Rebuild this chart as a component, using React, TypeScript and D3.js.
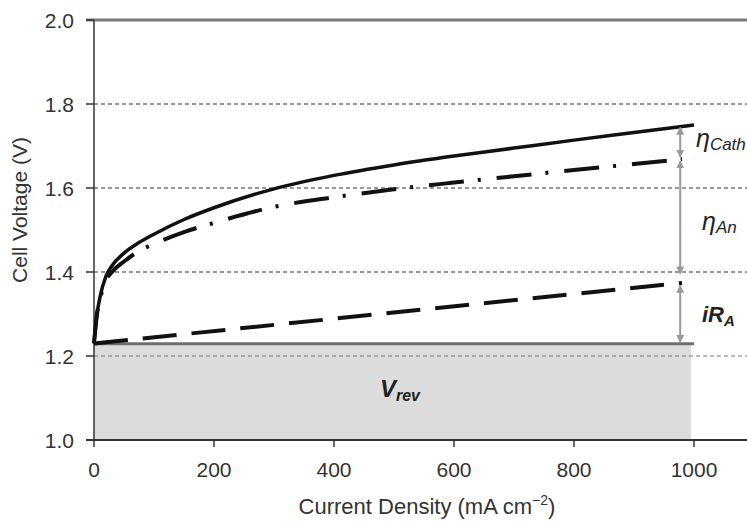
import * as React from "react";
import * as d3 from "d3";

// current density (mA cm-2) and voltage readings
const currentDensity = [0, 5, 10, 20, 30, 50, 75, 100, 150, 200, 300, 400, 500, 600, 700, 800, 900, 1000];
const totalVoltage = [1.23, 1.3, 1.34, 1.39, 1.415, 1.445, 1.47, 1.49, 1.525, 1.553, 1.598, 1.63, 1.655, 1.676, 1.695, 1.714, 1.732, 1.75];

const anodeDensity = [0, 5, 10, 20, 30, 50, 75, 100, 150, 200, 300, 400, 500, 600, 700, 800, 900, 980];
const anodeVoltage = [1.23, 1.3, 1.335, 1.38, 1.4, 1.425, 1.45, 1.467, 1.495, 1.517, 1.555, 1.578, 1.597, 1.613, 1.628, 1.643, 1.657, 1.669];

const ohmicDensity = [0, 980];
const ohmicVoltage = [1.23, 1.374];

const vRev = 1.229;
const vRevEnd = 1000;

const yTicks = [1.0, 1.2, 1.4, 1.6, 1.8, 2.0];
const gridLines = [1.2, 1.4, 1.6, 1.8];
const xTicks = [0, 200, 400, 600, 800, 1000];

const arrowX = 977;
const arrows = [
  { from: 1.744, to: 1.674 },
  { from: 1.664, to: 1.396 },
  { from: 1.368, to: 1.233 },
];

const W = 747;
const H = 522;

const App = () => {
  const x = d3.scaleLinear().domain([0, 1100]).range([94, 754]);
  const y = d3.scaleLinear().domain([1.0, 2.0]).range([440, 20]);

  const line = d3
    .line<[number, number]>()
    .x((d) => x(d[0]))
    .y((d) => y(d[1]))
    .curve(d3.curveMonotoneX);

  const total = line(currentDensity.map((c, i) => [c, totalVoltage[i]]));
  const anode = line(anodeDensity.map((c, i) => [c, anodeVoltage[i]]));
  const ohmic = line(ohmicDensity.map((c, i) => [c, ohmicVoltage[i]]));

  const font = "'Liberation Sans', Arial, sans-serif";

  return (
    <svg
      width={W}
      height={H}
      style={{ position: "absolute", left: 0, top: 0, background: "#fff" }}
      fontFamily={font}
    >
      <defs>
        <marker id="ah" viewBox="0 0 10 10" refX="9" refY="5" markerWidth="4" markerHeight="4" orient="auto-start-reverse">
          <path d="M0,0 L10,5 L0,10 z" fill="#999" />
        </marker>
      </defs>

      {/* V_rev area */}
      <rect x={x(0)} y={y(vRev)} width={x(995) - x(0)} height={y(1.0) - y(vRev)} fill="#dcdcdc" />

      {/* grid */}
      {gridLines.map((g) => (
        <line key={"g" + g} x1={x(0)} x2={W} y1={y(g)} y2={y(g)} stroke={g === 1.2 ? "#777" : "#333"} strokeWidth={1} strokeDasharray="4,3" />
      ))}
      <line x1={86} x2={W} y1={y(2.0)} y2={y(2.0)} stroke="#7a7a7a" strokeWidth={3} />

      {/* axes */}
      <line x1={x(0)} x2={x(0)} y1={y(2.0)} y2={y(1.0)} stroke="#333" strokeWidth={1.5} />
      <line x1={86} x2={W} y1={y(1.0)} y2={y(1.0)} stroke="#333" strokeWidth={2} />
      {yTicks.map((t) => (
        <g key={"y" + t}>
          <line x1={86} x2={x(0)} y1={y(t)} y2={y(t)} stroke="#333" strokeWidth={1.5} />
          <text x={74} y={y(t)} dy="0.36em" textAnchor="end" fontSize={21} fill="#333">
            {t.toFixed(1)}
          </text>
        </g>
      ))}
      {xTicks.map((t) => (
        <g key={"x" + t}>
          <line x1={x(t)} x2={x(t)} y1={y(1.0)} y2={y(1.0) + 7} stroke="#333" strokeWidth={1.5} />
          <text x={x(t)} y={477} textAnchor="middle" fontSize={21} fill="#333">
            {t}
          </text>
        </g>
      ))}

      {/* V_rev line */}
      <line x1={x(0)} x2={x(vRevEnd)} y1={y(vRev)} y2={y(vRev)} stroke="#6f6f6f" strokeWidth={3} />

      {/* curves */}
      <path d={ohmic ?? ""} fill="none" stroke="#111" strokeWidth={4} strokeDasharray="34,15" />
      <path d={anode ?? ""} fill="none" stroke="#111" strokeWidth={4} strokeDasharray="35,14,3,16" />
      <path d={total ?? ""} fill="none" stroke="#111" strokeWidth={3.5} />

      {/* arrows */}
      {arrows.map((a, i) => (
        <line
          key={"a" + i}
          x1={x(arrowX)}
          x2={x(arrowX)}
          y1={y(a.from)}
          y2={y(a.to)}
          stroke="#999"
          strokeWidth={2}
          markerStart="url(#ah)"
          markerEnd="url(#ah)"
        />
      ))}

      {/* annotations */}
      <text x={696} y={y(1.709)} dy="0.3em" fontStyle="italic" fill="#222">
        <tspan fontSize={25}>η</tspan>
        <tspan fontSize={17} dy="3">Cath</tspan>
      </text>
      <text x={702} y={y(1.512)} dy="0.3em" fontStyle="italic" fill="#222">
        <tspan fontSize={25}>η</tspan>
        <tspan fontSize={17} dy="3">An</tspan>
      </text>
      <text x={702} y={y(1.293)} dy="0.3em" fontStyle="italic" fontWeight="bold" fill="#222">
        <tspan fontSize={22}>iR</tspan>
        <tspan fontSize={15} dy="4">A</tspan>
      </text>
      <text x={x(510)} y={y(1.115)} dy="0.3em" textAnchor="middle" fontStyle="italic" fontWeight="bold" fill="#222">
        <tspan fontSize={24}>V</tspan>
        <tspan fontSize={16} dy="4">rev</tspan>
      </text>

      {/* axis titles */}
      <text x={427} y={514} textAnchor="middle" fontSize={22} fill="#333">
        Current Density (mA cm
        <tspan fontSize={14} dy="-9">−2</tspan>
        <tspan dy="9">)</tspan>
      </text>
      <text transform={`translate(27,210) rotate(-90)`} textAnchor="middle" fontSize={21} fill="#333">
        Cell Voltage (V)
      </text>
    </svg>
  );
};

export default App;
